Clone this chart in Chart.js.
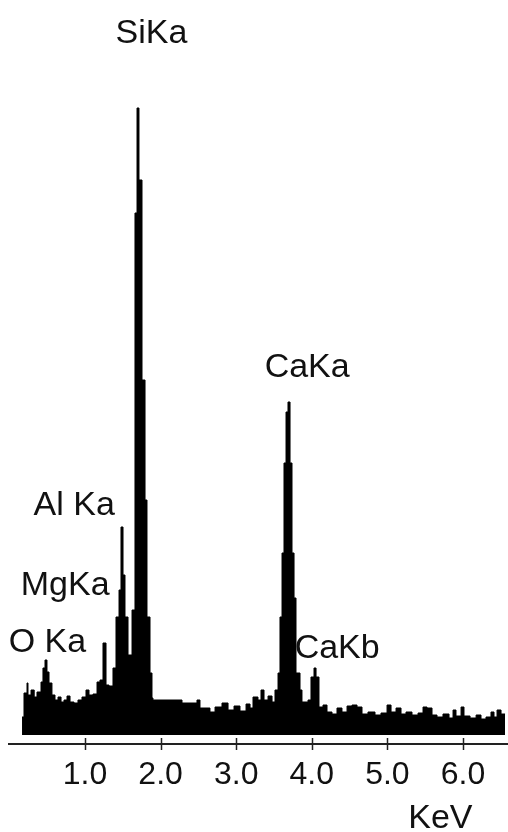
<!DOCTYPE html>
<html>
<head>
<meta charset="utf-8">
<script src="https://cdn.jsdelivr.net/npm/chart.js@4.4.1/dist/chart.umd.min.js"></script>
<style>
  html, body { margin: 0; padding: 0; background: #fff; }
  #wrap { width: 508px; height: 832px; position: relative; }
</style>
</head>
<body>
<div id="wrap"><canvas id="c" width="508" height="832"></canvas></div>
<script>
// EDS spectrum: channel start energy (keV) and counts held until the next channel
const energy = [
  0.167, 0.193, 0.233, 0.246, 0.286, 0.328, 0.365, 0.418, 0.444, 0.471,
  0.497, 0.524, 0.563, 0.603, 0.643, 0.683, 0.722, 0.762, 0.802, 0.854,
  0.907, 0.960, 1.013, 1.053, 1.106, 1.159, 1.198, 1.238, 1.278, 1.317,
  1.370, 1.410, 1.450, 1.476, 1.503, 1.529, 1.569, 1.622, 1.661, 1.688,
  1.714, 1.754, 1.794, 1.820, 1.860, 1.886, 1.899, 2.283, 2.481, 2.521,
  2.653, 2.720, 2.812, 2.892, 2.971, 3.050, 3.130, 3.183, 3.222, 3.288,
  3.328, 3.368, 3.421, 3.474, 3.513, 3.553, 3.579, 3.606, 3.632, 3.659,
  3.685, 3.712, 3.738, 3.765, 3.791, 3.844, 3.870, 3.950, 3.989, 4.029,
  4.056, 4.095, 4.148, 4.201, 4.267, 4.333, 4.399, 4.466, 4.532, 4.598,
  4.664, 4.743, 4.836, 4.915, 4.995, 5.048, 5.114, 5.180, 5.246, 5.325,
  5.405, 5.471, 5.524, 5.590, 5.656, 5.735, 5.815, 5.868, 5.907, 5.974,
  6.013, 6.093, 6.173, 6.238, 6.304, 6.370, 6.410, 6.450, 6.503, 6.556
];
const counts = [
  18, 42, 52, 40, 45, 38, 43, 53, 67, 75,
  63, 52, 40, 35, 38, 33, 35, 39, 33, 32,
  35, 38, 45, 40, 41, 53, 55, 92, 50, 49,
  67, 118, 145, 208, 160, 118, 80, 125, 522, 627,
  555, 355, 235, 118, 62, 37, 35, 32, 35, 27,
  23, 28, 32, 25, 29, 24, 31, 27, 38, 35,
  45, 35, 39, 33, 45, 62, 118, 182, 272, 323,
  333, 272, 182, 137, 62, 45, 33, 35, 58, 67,
  58, 28, 30, 23, 21, 27, 23, 29, 30, 28,
  21, 23, 20, 22, 30, 23, 27, 21, 23, 20,
  22, 28, 27, 20, 18, 21, 17, 25, 19, 28,
  19, 17, 20, 16, 18, 23, 18, 25, 21, 21
];
const tickValues = [1, 2, 3, 4, 5, 6];
const tickLabels = ['1.0', '2.0', '3.0', '4.0', '5.0', '6.0'];
const peakNames = ['SiKa', 'Al Ka', 'MgKa', 'O Ka', 'CaKa', 'CaKb'];
const unitLabel = 'KeV';

// where each line label sits (left edge in keV, text baseline in counts)
const peakLabelAnchors = [
  { x: 1.405, y: 692 },
  { x: 0.320, y: 220 },
  { x: 0.150, y: 140 },
  { x: -0.010, y: 83 },
  { x: 3.376, y: 358 },
  { x: 3.773, y: 77 }
];

const FONT = '"Liberation Sans", Arial, sans-serif';

const crossTicks = {
  id: 'crossTicks',
  afterDraw(chart) {
    const { ctx } = chart;
    const xs = chart.scales.x;
    const yb = chart.chartArea.bottom;
    ctx.save();
    ctx.strokeStyle = '#222';
    ctx.lineWidth = 1.5;
    xs.ticks.forEach(t => {
      const px = Math.round(xs.getPixelForValue(t.value)) + 0.5;
      ctx.beginPath();
      ctx.moveTo(px, yb - 6);
      ctx.lineTo(px, yb + 6);
      ctx.stroke();
    });
    ctx.restore();
  }
};

const peakText = {
  id: 'peakText',
  afterDraw(chart) {
    const { ctx } = chart;
    const xs = chart.scales.x, ys = chart.scales.y;
    ctx.save();
    ctx.fillStyle = '#111';
    ctx.font = '34px ' + FONT;
    ctx.textAlign = 'left';
    ctx.textBaseline = 'alphabetic';
    peakNames.forEach((name, i) => {
      const a = peakLabelAnchors[i];
      ctx.fillText(name, xs.getPixelForValue(a.x), ys.getPixelForValue(a.y));
    });
    // energy unit under the axis
    ctx.textAlign = 'center';
    ctx.fillText(unitLabel, xs.getPixelForValue(5.70), chart.chartArea.bottom + 84);
    ctx.restore();
  }
};

new Chart(document.getElementById('c'), {
  type: 'line',
  data: {
    datasets: [{
      data: energy.map((e, i) => ({ x: e, y: counts[i] })),
      stepped: true,
      fill: 'origin',
      backgroundColor: '#000',
      borderColor: '#000',
      borderWidth: 1,
      pointRadius: 0,
      tension: 0
    }]
  },
  options: {
    responsive: false,
    animation: false,
    devicePixelRatio: 1,
    layout: { padding: { left: 9.4, right: 0, top: 0, bottom: 0 } },
    plugins: { legend: { display: false }, tooltip: { enabled: false } },
    scales: {
      x: {
        type: 'linear',
        min: 0,
        max: 6.595,
        afterBuildTicks: s => { s.ticks = tickValues.map(v => ({ value: v })); },
        afterFit: s => { s.height = 88; },
        ticks: {
          autoSkip: false,
          maxRotation: 0,
          padding: 12,
          color: '#111',
          font: { family: FONT, size: 32 },
          callback: v => tickLabels[tickValues.indexOf(v)]
        },
        grid: { display: true, drawOnChartArea: false, drawTicks: false },
        border: { display: true, color: '#222', width: 2 }
      },
      y: {
        display: false,
        min: -9,
        max: 735
      }
    }
  },
  plugins: [crossTicks, peakText]
});
</script>
</body>
</html>
